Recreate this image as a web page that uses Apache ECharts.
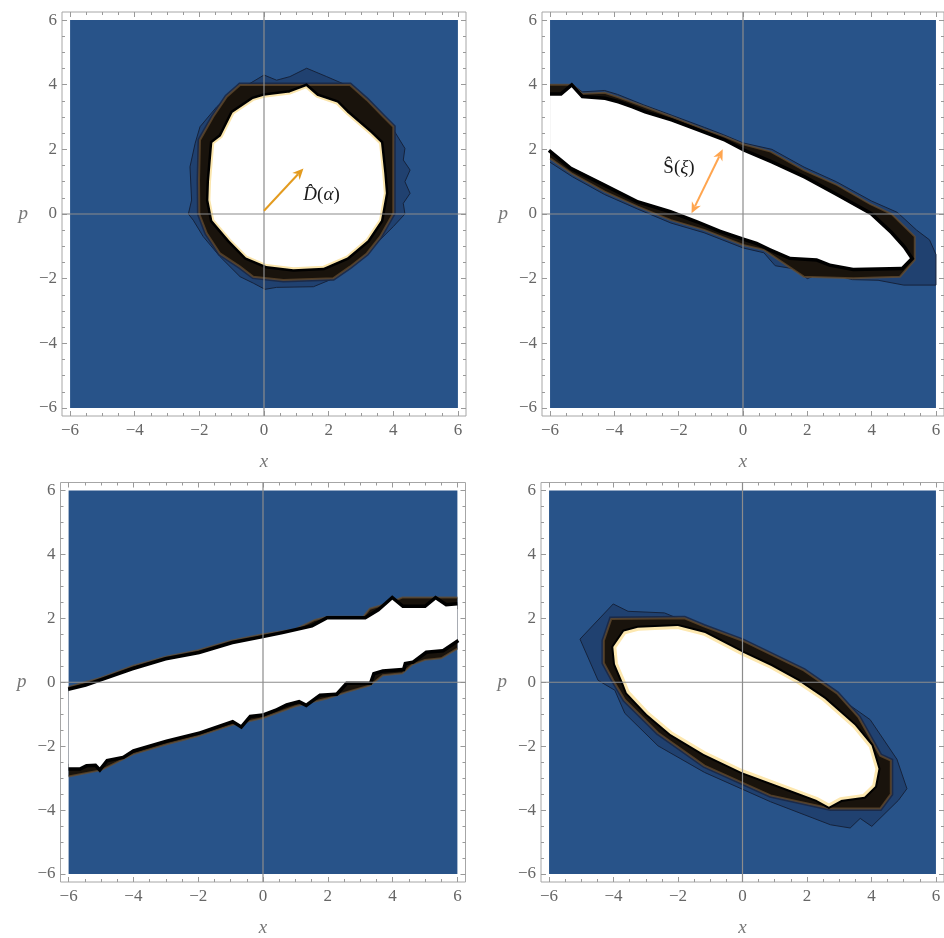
<!DOCTYPE html>
<html><head><meta charset="utf-8">
<script src="https://cdn.jsdelivr.net/npm/echarts@6/dist/echarts.min.js"></script>
<style>html,body{margin:0;padding:0;background:#fff}#c{width:944px;height:938px}</style>
</head><body><div id="c"></div>
<script>
// ---------- axis data ----------
const AXIS_MIN = -6.25, AXIS_MAX = 6.25;
const MAJOR_TICKS = [-6, -4, -2, 0, 2, 4, 6];
const MINOR_TICKS = [-5.5, -5, -4.5, -3.5, -3, -2.5, -1.5, -1, -0.5, 0.5, 1, 1.5, 2.5, 3, 3.5, 4.5, 5, 5.5];
const PLOT_RANGE = [-6, 6];

// ---------- panel 1 : displaced state ----------
const p1Outer = [[-2.34,0],[-2.24,0.43],[-2.29,1.46],[-2.13,2.19],[-1.98,2.7],[-1.46,3.32],[-0.95,3.73],[0,4.3],[0.39,4.14],[0.8,4.25],[1.32,4.51],[1.94,4.25],[2.66,3.94],[3.38,3.32],[3.95,2.7],[4.36,2.03],[4.31,1.67],[4.52,1.36],[4.36,1.0],[4.52,0.64],[4.31,0.33],[4.36,0],[4.0,-0.39],[3.48,-0.91],[2.76,-1.53],[2.04,-2.04],[1.53,-2.25],[0.39,-2.27],[0.03,-2.33],[-0.33,-2.14],[-0.74,-1.94],[-1.36,-1.32],[-1.88,-0.7],[-2.19,-0.19]];
const p1Ring = [[-2.01,1.05],[-2.0,0.0],[-1.77,-0.6],[-1.36,-1.22],[-0.74,-1.63],[-0.33,-1.94],[0.6,-2.04],[2.14,-1.99],[2.66,-1.63],[3.18,-1.22],[3.59,-0.7],[4.0,0.02],[4.0,2.7],[3.69,3.01],[3.18,3.53],[2.66,3.99],[-0.74,3.99],[-1.15,3.63],[-1.57,3.01],[-1.98,2.29]];
const p1White = [[-1.67,1.0],[-1.57,2.19],[-1.31,2.39],[-0.95,3.11],[-0.33,3.53],[0,3.63],[0.8,3.73],[1.3,3.92],[1.63,3.63],[2.25,3.42],[2.56,3.11],[3.28,2.49],[3.59,2.19],[3.69,1.26],[3.74,0.64],[3.59,-0.19],[3.18,-0.8],[2.56,-1.32],[1.84,-1.63],[0.91,-1.68],[0.08,-1.58],[-0.54,-1.32],[-1.05,-0.8],[-1.57,-0.19],[-1.69,0.43]];
const arrowD = [[0, 0.1], [1.22, 1.41]];
const labelD = [1.78, 0.59];

// ---------- panel 2 : squeezed state ----------
const p2Outer = [[-6.0,1.6],[-5.3,1.15],[-4.3,0.6],[-3.27,0.15],[-2.24,-0.28],[-1.21,-0.58],[0,-1.05],[0.65,-1.2],[1.0,-1.6],[1.6,-1.7],[2.0,-2.0],[2.5,-1.8],[3.4,-2.03],[4.2,-2.05],[5.0,-2.2],[6.0,-2.2],[6.0,-1.25],[5.8,-0.8],[5.4,-0.5],[4.8,0.05],[4.0,0.4],[2.9,1.0],[1.9,1.45],[0.9,2.0],[0,2.2],[-0.6,2.45],[-1.2,2.68],[-2.2,3.05],[-3.1,3.38],[-3.9,3.7],[-4.3,3.82],[-5.0,3.78],[-5.3,4.0],[-6.0,4.0]];
const p2Ring = [[-6.0,4.0],[-5.3,4.0],[-5.0,3.72],[-4.3,3.75],[-3.9,3.62],[-3.06,3.32],[-2.2,3.0],[-1.21,2.62],[-0.59,2.4],[0,2.16],[0.86,1.93],[1.89,1.36],[2.92,0.9],[3.95,0.31],[4.62,0.0],[5.34,-0.7],[5.34,-1.42],[4.88,-1.94],[3.43,-1.99],[1.89,-1.94],[0.65,-1.11],[0,-0.96],[-1.21,-0.49],[-2.24,-0.19],[-3.27,0.23],[-4.3,0.69],[-5.33,1.26],[-6.0,1.72]];
const p2White = [[-6.0,3.66],[-5.64,3.66],[-5.33,3.92],[-5.02,3.58],[-4.3,3.53],[-3.89,3.42],[-3.47,3.27],[-3.06,3.11],[-2.24,2.86],[-1.41,2.55],[-0.59,2.24],[0,1.93],[0.86,1.57],[1.89,1.1],[2.92,0.54],[3.95,-0.03],[4.57,-0.6],[4.98,-1.06],[5.19,-1.37],[4.93,-1.63],[3.43,-1.66],[2.71,-1.53],[2.3,-1.37],[1.47,-1.32],[0.86,-1.06],[0.44,-0.86],[0,-0.72],[-0.69,-0.49],[-1.41,-0.19],[-2.24,0.12],[-3.27,0.43],[-4.3,0.95],[-5.33,1.46],[-6.0,2.01]];
const arrowS = [[-1.6, 0.02], [-0.63, 2.0]];
const labelS = [-1.99, 1.41];

// ---------- panel 3 : band ----------
const p3Upper = [[-6.0,-0.27],[-5.46,-0.14],[-5.04,0.01],[-4.02,0.37],[-2.99,0.68],[-1.96,0.88],[-0.93,1.19],[-0.11,1.35],[0.61,1.5],[1.53,1.71],[1.99,1.96],[3.17,1.96],[3.59,2.22],[3.99,2.58],[4.3,2.32],[5.02,2.32],[5.33,2.58],[5.64,2.37],[6.0,2.4]];
const p3Lower = [[-6.0,-2.66],[-5.66,-2.66],[-5.46,-2.56],[-5.15,-2.54],[-5.04,-2.66],[-4.84,-2.4],[-4.33,-2.3],[-4.02,-2.1],[-2.99,-1.79],[-1.96,-1.53],[-0.93,-1.17],[-0.68,-1.33],[-0.42,-1.02],[-0.01,-0.97],[0.4,-0.81],[0.71,-0.66],[1.12,-0.55],[1.33,-0.66],[1.74,-0.35],[2.25,-0.32],[2.56,0.02],[3.28,0.02],[3.38,0.31],[3.69,0.41],[4.3,0.45],[4.35,0.63],[4.61,0.68],[5.02,0.99],[5.54,1.04],[6.0,1.35]];
const p3RingTop = [[-6.0,-0.15],[-5.0,0.14],[-4.0,0.52],[-3.0,0.8],[-2.0,1.0],[-1.0,1.3],[0,1.5],[1.0,1.66],[1.6,1.95],[2.0,2.05],[3.1,2.05],[3.3,2.3],[3.8,2.45],[4.3,2.65],[6.0,2.65]];
const p3RingBottom = [[-6.0,-2.95],[-5.0,-2.75],[-4.0,-2.25],[-3.0,-1.95],[-2.0,-1.68],[-1.0,-1.35],[0,-1.12],[1.0,-0.75],[2.0,-0.5],[2.6,-0.3],[3.3,-0.1],[3.7,0.22],[4.3,0.28],[4.6,0.55],[5.0,0.7],[5.5,0.75],[6.0,1.05]];

// ---------- panel 4 : displaced squeezed state ----------
const p4Outer = [[-5.04,1.35],[-4.01,2.45],[-3.55,2.22],[-2.42,2.17],[-1.8,1.91],[-0.57,1.45],[0.67,0.88],[1.9,0.3],[2.6,-0.2],[3.96,-1.17],[4.79,-2.41],[5.1,-3.33],[4.84,-3.69],[4.01,-4.51],[3.65,-4.26],[3.34,-4.56],[2.73,-4.46],[0.87,-3.74],[-1.18,-2.82],[-2.62,-1.99],[-3.65,-0.97],[-3.96,-0.25],[-4.48,0.06]];
const p4Ring = [[-4.3,1.3],[-4.07,1.98],[-1.8,2.0],[-1.2,1.75],[0,1.3],[1.9,0.37],[2.93,-0.35],[3.6,-1.1],[4.27,-2.3],[4.6,-2.45],[4.6,-3.5],[4.27,-3.95],[2.73,-3.95],[0.87,-3.54],[-1.18,-2.61],[-2.62,-1.58],[-3.65,-0.55],[-4.01,0.06],[-4.3,0.6]];
const p4White = [[-3.96,1.09],[-3.65,1.55],[-3.24,1.66],[-2.01,1.71],[-1.18,1.5],[0,0.88],[0.87,0.47],[1.7,0.01],[2.52,-0.55],[3.45,-1.38],[3.96,-2.0],[4.17,-2.71],[4.07,-3.23],[3.76,-3.54],[3.04,-3.64],[2.68,-3.84],[2.32,-3.64],[1.49,-3.33],[0,-2.77],[-1.18,-2.2],[-2.21,-1.58],[-2.93,-0.97],[-3.55,-0.3],[-3.65,-0.04],[-3.91,0.58]];

// ---------- styles ----------
const BLUE = '#285389';
const FONT = 'Liberation Serif';
const LABEL_COLOR = '#666';
const TICK_COLOR = '#999';
const AXIS0 = '#8c8c8c';
const fmt = v => String(v).replace('-', '\u2212');

const GRIDS = [
  {left: 62, top: 12, width: 404, height: 404},
  {left: 542, top: 12, width: 404, height: 404},
  {left: 60.5, top: 482.5, width: 405, height: 405},
  {left: 541, top: 482.5, width: 405, height: 405}
];

const CONTOUR_FILL = 'rgba(14,28,58,0.32)';
const CONTOUR_LINE = '#15223b';
const RING_FILL = '#19130c';
const RING_EDGE = 'rgba(105,78,45,0.7)';
const RING_EDGE2 = 'rgba(25,40,70,0.9)';

const panels = [
  [
    {kind:'bg'},
    {kind:'poly', pts:p1Outer, fill:CONTOUR_FILL, stroke:CONTOUR_LINE, lw:1},
    {kind:'poly', pts:p1Ring, fill:null, stroke:RING_EDGE2, lw:5},
    {kind:'poly', pts:p1Ring, fill:RING_FILL, stroke:RING_EDGE, lw:2},
    {kind:'poly', pts:p1White, fill:null, stroke:'#000', lw:7},
    {kind:'poly', pts:p1White, fill:'#fff', stroke:'#fbe6ad', lw:2},
    {kind:'axes0'},
    {kind:'arrow', pts:arrowD, color:'#e39b1f', both:false},
    {kind:'text', at:labelD, rich:'{i|D\u0302}{r|(}{i|\u03b1}{r|)}'}
  ],
  [
    {kind:'bg'},
    {kind:'poly', pts:p2Outer, fill:CONTOUR_FILL, stroke:null, lw:0},
    {kind:'line', pts:p2Outer, stroke:CONTOUR_LINE, lw:1},
    {kind:'poly', pts:p2Ring, fill:RING_FILL, stroke:null, lw:0},
    {kind:'line', pts:p2Ring, stroke:RING_EDGE, lw:2},
    {kind:'line', pts:p2White, stroke:'#000', lw:7},
    {kind:'poly', pts:p2White, fill:'#fff', stroke:null, lw:0},
    {kind:'axes0'},
    {kind:'arrow', pts:arrowS, color:'#ffa54f', both:true},
    {kind:'text', at:labelS, rich:'{r|\u015c(}{i|\u03be}{r|)}'}
  ],
  [
    {kind:'bg'},
    {kind:'poly', pts:p3RingTop.concat(p3RingBottom.slice().reverse()), fill:RING_FILL, stroke:null, lw:0},
    {kind:'line', pts:p3RingTop, stroke:RING_EDGE, lw:2},
    {kind:'line', pts:p3RingBottom, stroke:RING_EDGE, lw:2},
    {kind:'line', pts:p3Upper, stroke:'#000', lw:7},
    {kind:'line', pts:p3Lower, stroke:'#000', lw:7},
    {kind:'poly', pts:p3Upper.concat(p3Lower.slice().reverse()), fill:'#fff', stroke:null, lw:0},
    {kind:'axes0'}
  ],
  [
    {kind:'bg'},
    {kind:'poly', pts:p4Outer, fill:CONTOUR_FILL, stroke:CONTOUR_LINE, lw:1},
    {kind:'poly', pts:p4Ring, fill:null, stroke:RING_EDGE2, lw:5},
    {kind:'poly', pts:p4Ring, fill:RING_FILL, stroke:RING_EDGE, lw:2},
    {kind:'poly', pts:p4White, fill:null, stroke:'#000', lw:7},
    {kind:'poly', pts:p4White, fill:'#fff', stroke:'#fde8b0', lw:3},
    {kind:'axes0'}
  ]
];

function makeRender(layers) {
  return function (params, api) {
    const L = layers[params.dataIndex];
    const c = p => api.coord(p);
    const z2 = params.dataIndex;
    if (L.kind === 'bg') {
      const a = c([PLOT_RANGE[0], PLOT_RANGE[1]]), b = c([PLOT_RANGE[1], PLOT_RANGE[0]]);
      return {type:'rect', z2, shape:{x:a[0], y:a[1], width:b[0]-a[0], height:b[1]-a[1]}, style:{fill:BLUE}};
    }
    if (L.kind === 'poly') {
      return {type:'polygon', z2, shape:{points:L.pts.map(c)}, style:{fill:L.fill || 'none', stroke:L.stroke || 'none', lineWidth:L.lw, lineJoin:'miter', miterLimit:3}};
    }
    if (L.kind === 'line') {
      return {type:'polyline', z2, shape:{points:L.pts.map(c)}, style:{fill:'none', stroke:L.stroke, lineWidth:L.lw, lineJoin:'miter', miterLimit:3}};
    }
    if (L.kind === 'axes0') {
      const v1 = c([0, AXIS_MIN]), v2 = c([0, AXIS_MAX]);
      const h1 = c([AXIS_MIN, 0]), h2 = c([AXIS_MAX, 0]);
      return {type:'group', z2, children:[
        {type:'line', z2, shape:{x1:v1[0], y1:v1[1], x2:v2[0], y2:v2[1]}, style:{stroke:AXIS0, lineWidth:1.2}},
        {type:'line', z2, shape:{x1:h1[0], y1:h1[1], x2:h2[0], y2:h2[1]}, style:{stroke:AXIS0, lineWidth:1.2}}
      ]};
    }
    if (L.kind === 'arrow') {
      const a = c(L.pts[0]), b = c(L.pts[1]);
      const dx = b[0]-a[0], dy = b[1]-a[1], len = Math.hypot(dx, dy);
      const ux = dx/len, uy = dy/len, nx = -uy, ny = ux;
      const hl = 11, hw = 5;
      const head = (tip, s) => ({type:'polygon', z2, shape:{points:[
        tip,
        [tip[0]-s*ux*hl + nx*hw, tip[1]-s*uy*hl + ny*hw],
        [tip[0]-s*ux*hl*0.7, tip[1]-s*uy*hl*0.7],
        [tip[0]-s*ux*hl - nx*hw, tip[1]-s*uy*hl - ny*hw]
      ]}, style:{fill:L.color}});
      const s0 = L.both ? [a[0]+ux*8, a[1]+uy*8] : a;
      const e0 = [b[0]-ux*8, b[1]-uy*8];
      const kids = [{type:'line', z2, shape:{x1:s0[0], y1:s0[1], x2:e0[0], y2:e0[1]}, style:{stroke:L.color, lineWidth:2}}, head(b, 1)];
      if (L.both) kids.push(head(a, -1));
      return {type:'group', z2, children:kids};
    }
    if (L.kind === 'text') {
      const p = c(L.at);
      return {type:'text', z2, x:p[0], y:p[1], style:{text:L.rich, align:'center', verticalAlign:'middle', fill:'#1a1a1a',
        rich:{i:{fontFamily:FONT, fontStyle:'italic', fontSize:19, fill:'#1a1a1a'}, r:{fontFamily:FONT, fontSize:19, fill:'#1a1a1a'}}}};
    }
  };
}

const xAxis = [], yAxis = [], series = [];
GRIDS.forEach((g, k) => {
  const base = {gridIndex:k, type:'value', min:AXIS_MIN, max:AXIS_MAX, axisLine:{show:false, onZero:false}, splitLine:{show:false}};
  const tickMaj = {inside:true, length:5, customValues:MAJOR_TICKS, lineStyle:{color:TICK_COLOR, width:1}};
  const tickMin = {inside:true, length:3, customValues:MINOR_TICKS, lineStyle:{color:TICK_COLOR, width:1}};
  const lbl = {customValues:MAJOR_TICKS, formatter:fmt, fontSize:17, fontFamily:FONT, color:LABEL_COLOR};
  const nameStyle = {fontFamily:FONT, fontStyle:'italic', fontSize:19, color:'#777'};
  xAxis.push(
    Object.assign({}, base, {position:'bottom', axisTick:tickMaj, axisLabel:Object.assign({margin:6}, lbl), name:'x', nameLocation:'middle', nameGap:36, nameTextStyle:nameStyle}),
    Object.assign({}, base, {position:'bottom', axisTick:tickMin, axisLabel:{show:false}}),
    Object.assign({}, base, {position:'top', axisTick:tickMaj, axisLabel:{show:false}}),
    Object.assign({}, base, {position:'top', axisTick:tickMin, axisLabel:{show:false}})
  );
  yAxis.push(
    Object.assign({}, base, {position:'left', axisTick:tickMaj, axisLabel:Object.assign({margin:5}, lbl), name:'p', nameLocation:'middle', nameRotate:0, nameGap:34, nameTextStyle:nameStyle}),
    Object.assign({}, base, {position:'left', axisTick:tickMin, axisLabel:{show:false}}),
    Object.assign({}, base, {position:'right', axisTick:tickMaj, axisLabel:{show:false}}),
    Object.assign({}, base, {position:'right', axisTick:tickMin, axisLabel:{show:false}})
  );
  const layers = panels[k];
  series.push({
    type:'custom', xAxisIndex:4*k, yAxisIndex:4*k, silent:true, animation:false,
    encode:{x:0, y:1},
    data:layers.map(() => [0, 0]),
    renderItem:makeRender(layers)
  });
});

const chart = echarts.init(document.getElementById('c'), null, {renderer:'canvas'});
chart.setOption({
  animation:false,
  backgroundColor:'#fff',
  grid:GRIDS.map(g => Object.assign({show:true, borderColor:'#a6a6a6', borderWidth:1, backgroundColor:'transparent', containLabel:false}, g)),
  xAxis, yAxis, series
});
</script></body></html>
